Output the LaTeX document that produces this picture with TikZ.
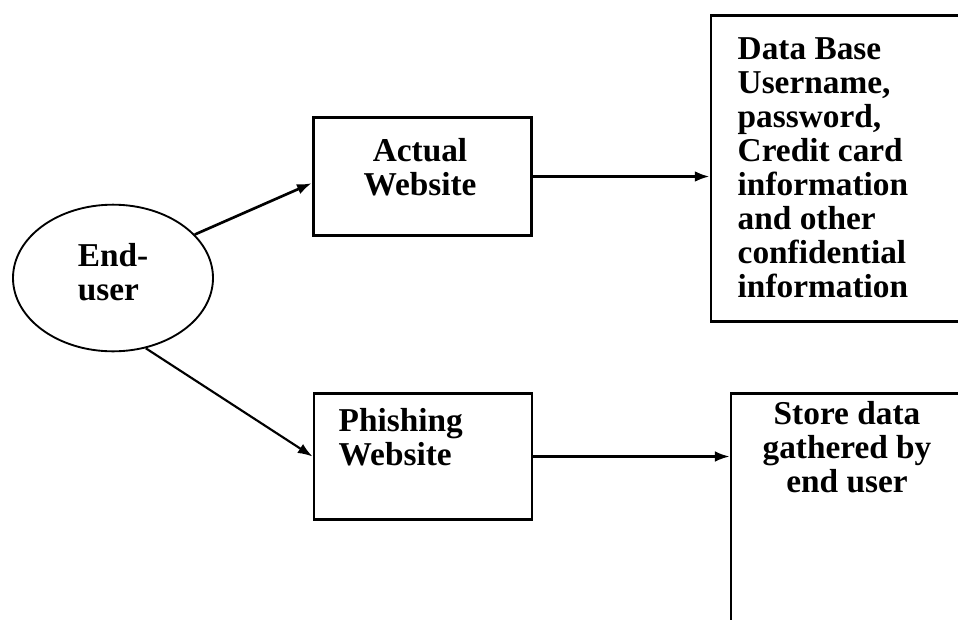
\documentclass[tikz,border=0pt]{standalone}
\usepackage{fontspec}
\setmainfont{Liberation Serif}
\usepackage{tikz}
\pgfdeclarelayer{nodelayer}
\pgfdeclarelayer{edgelayer}
\pgfsetlayers{edgelayer,nodelayer,main}
\usetikzlibrary{arrows.meta,shapes.geometric}

\begin{document}
\begin{tikzpicture}[x=0.75pt,y=-0.75pt,
	every node/.style={font=\fontsize{25}{25.5}\selectfont\bfseries}]
	\clip (0,0) rectangle (958,619);
	\begin{pgfonlayer}{nodelayer}
		\node [draw,ellipse,line width=1.4pt,minimum width=150pt,minimum height=110pt] (0) at (113, 278) {};
		\node [draw,line width=2.2pt,minimum width=164pt,minimum height=88pt] (1) at (422.5, 176.5) {};
		\node [draw,line width=2.2pt,minimum width=225pt,minimum height=230pt] (2) at (861, 168.5) {};
		\node [draw,line width=2.2pt,minimum width=163.5pt,minimum height=95pt] (3) at (423, 456.5) {};
		\node [draw,line width=2.2pt,minimum width=225pt,minimum height=245pt] (4) at (881, 556.5) {};
		\node [align=left] (5) at (113, 272) {End-\\user};
		\node [align=center] (6) at (420, 167) {Actual\\Website};
		\node [align=left,anchor=west] (7) at (733, 168) {Data Base\\Username,\\password,\\Credit card\\information\\and other\\confidential\\information};
		\node [align=left,anchor=west] (8) at (334, 437) {Phishing\\Website};
		\node [align=center] (9) at (847, 447) {Store data\\gathered by\\end user};
	\end{pgfonlayer}
	\begin{pgfonlayer}{edgelayer}
		\draw [-{Latex[length=11pt,width=8pt]},line width=2pt] (0.28) to ([yshift=-5pt]1.west);
		\draw [-{Latex[length=11pt,width=8pt]},line width=1.6pt] (0.-65) to (3.west);
		\draw [-{Latex[length=11pt,width=8pt]},line width=2pt] (1.east) to (1.east -| 2.west);
		\draw [-{Latex[length=11pt,width=8pt]},line width=1.6pt] (3.east) to (3.east -| 4.west);
	\end{pgfonlayer}
\end{tikzpicture}
\end{document}
